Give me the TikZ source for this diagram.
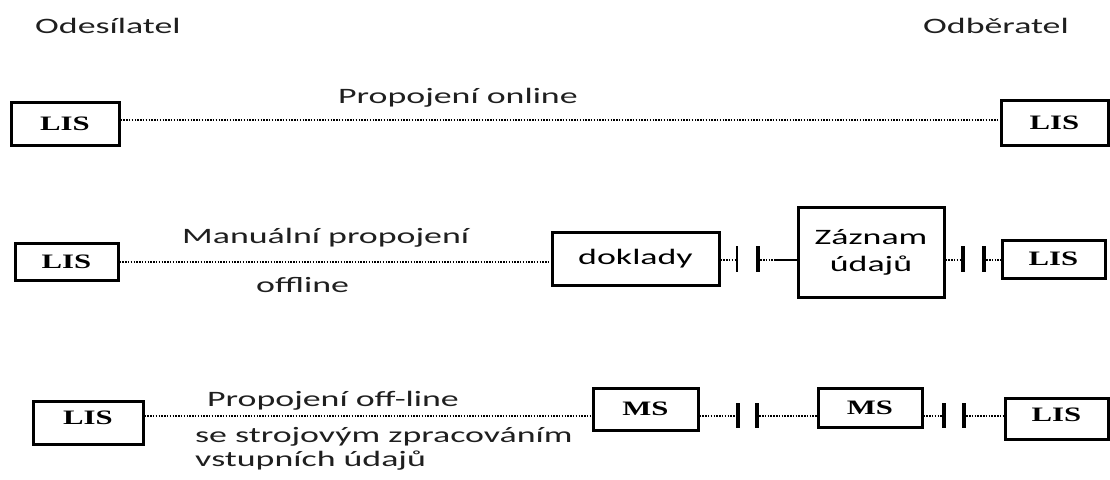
\documentclass[tikz,border=0pt]{standalone}
\usepackage{fontspec}
\newfontfamily\lblfont[FakeStretch=1.63]{Carlito}
\newfontfamily\boxfont[FakeStretch=1.5]{Liberation Serif}
\begin{document}
\begin{tikzpicture}[x=1pt,y=-1pt,
  lbl/.style={inner sep=0pt, anchor=base west, text=black!88,
    font=\lblfont\fontsize{22}{26}\selectfont},
  sysbox/.style={draw=black, line width=3pt, fill=white, inner sep=0pt,
    font=\boxfont\bfseries\fontsize{20.5}{22}\selectfont},
  txtbox/.style={draw=black, line width=3pt, fill=white, inner sep=0pt, align=center,
    font=\lblfont\fontsize{22}{27}\selectfont},
  bar/.style={fill=black, draw=none, inner sep=0pt, minimum width=4pt},
  thinbar/.style={fill=black, draw=none, inner sep=0pt, minimum width=2.5pt},
  link/.style={line width=1.7pt, dash pattern=on 1.5pt off 1.3pt},
  solidlink/.style={line width=1.8pt}]
\useasboundingbox (0,0) rectangle (1110,479);

% headings
\node[lbl] (hsend) at (35,33) {Odesílatel};
\node[lbl] (hrecv) at (923,33) {Odběratel};

% ---- online connection ----
\coordinate (r1) at (0,120);
\node[sysbox, minimum width=108pt, minimum height=43pt] (lisA1) at (65,123.5) {LIS};
\node[sysbox, minimum width=107pt, minimum height=45pt] (lisB1) at (1054.5,122.5) {LIS};
\draw[link] (lisA1.east |- r1) -- (lisB1.west |- r1);
\node[lbl] (t1) at (338,103) {Propojení online};

% ---- manual offline connection ----
\coordinate (r2a) at (0,262);
\coordinate (r2b) at (0,260);
\node[sysbox, minimum width=103pt, minimum height=37pt] (lisA2) at (66.5,261.5) {LIS};
\node[txtbox, minimum width=167pt, minimum height=53pt] (dokl) at (635.5,258.5) {doklady};
\node[txtbox, minimum width=146pt, minimum height=90pt] (zazn) at (871,252) {Záznam\\údajů};
\node[sysbox, minimum width=103pt, minimum height=38pt] (lisB2) at (1053.5,259) {LIS};
\node[thinbar, minimum height=26pt] (b21) at (737,259) {};
\node[bar, minimum height=26pt] (b22) at (758,259) {};
\node[bar, minimum height=26pt] (b23) at (963,259) {};
\node[bar, minimum height=26pt] (b24) at (984,259) {};
\coordinate (s2) at (776,260);
\draw[link] (lisA2.east |- r2a) -- (dokl.west |- r2a);
\draw[link] (dokl.east |- r2b) -- (b21.west |- r2b);
\draw[link] (b22.east |- r2b) -- (s2);
\draw[solidlink] (s2) -- (zazn.west |- r2b);
\draw[link] (zazn.east |- r2b) -- (b23.west |- r2b);
\draw[link] (b24.east |- r2b) -- (lisB2.west |- r2b);
\node[lbl] (t2a) at (182,243) {Manuální propojení};
\node[lbl] (t2b) at (256,292) {offline};

% ---- offline connection with machine processing ----
\coordinate (r3) at (0,416);
\node[sysbox, minimum width=110pt, minimum height=43pt] (lisA3) at (88,422.5) {\raisebox{10pt}{LIS}};
\node[sysbox, minimum width=105pt, minimum height=42pt] (ms1) at (645.5,409) {MS};
\node[sysbox, minimum width=104pt, minimum height=39pt] (ms2) at (870,407.5) {MS};
\node[sysbox, minimum width=103pt, minimum height=41pt] (lisB3) at (1056.5,418.5) {\raisebox{7pt}{LIS}};
\node[bar, minimum height=25pt] (b31) at (738,415.5) {};
\node[bar, minimum height=25pt] (b32) at (757,415.5) {};
\node[bar, minimum height=25pt] (b33) at (944,415.5) {};
\node[bar, minimum height=25pt] (b34) at (964,415.5) {};
\draw[link] (lisA3.east |- r3) -- (ms1.west |- r3);
\draw[link] (ms1.east |- r3) -- (b31.west |- r3);
\draw[link] (b32.east |- r3) -- (ms2.west |- r3);
\draw[link] (ms2.east |- r3) -- (b33.west |- r3);
\draw[link] (b34.east |- r3) -- (lisB3.west |- r3);
\node[lbl] (t3a) at (207,406) {Propojení off-line};
\node[lbl] (t3b) at (195,442) {se strojovým zpracováním};
\node[lbl] (t3c) at (195,466) {vstupních údajů};
\end{tikzpicture}
\end{document}
